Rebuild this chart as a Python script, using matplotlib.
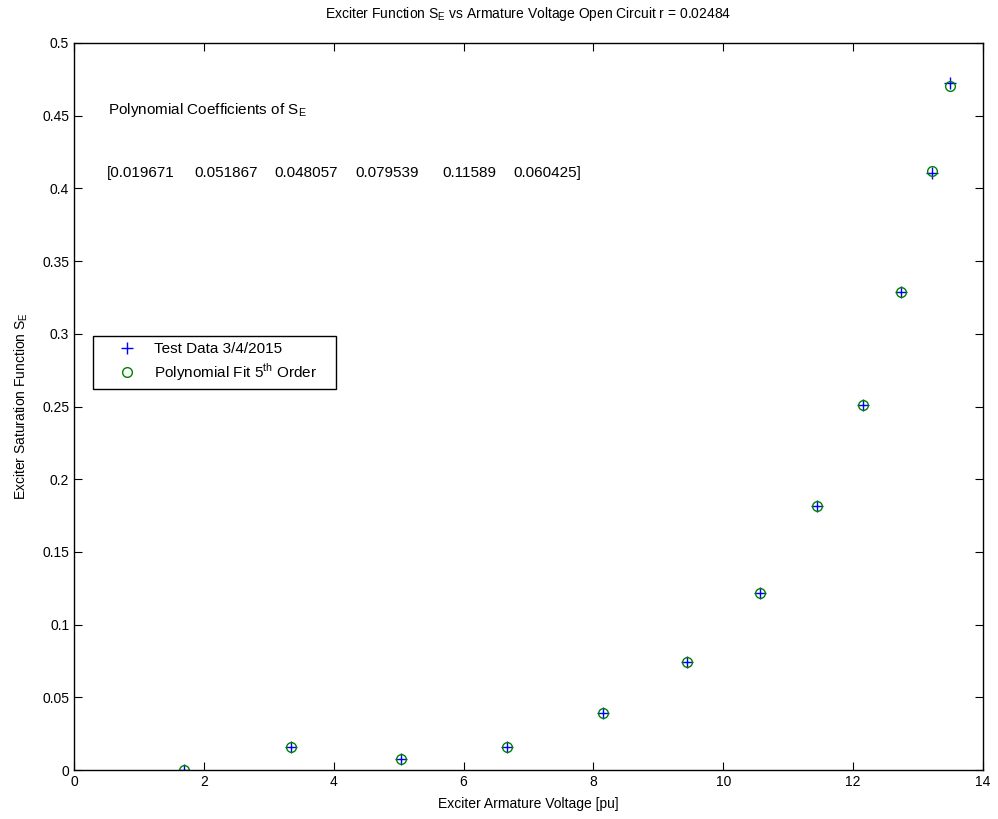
import matplotlib
matplotlib.use("Agg")
import matplotlib.pyplot as plt
from matplotlib.ticker import FuncFormatter

plt.rcParams['font.family'] = ['Liberation Sans', 'DejaVu Sans']
plt.rcParams['mathtext.fontset'] = 'custom'
plt.rcParams['mathtext.rm'] = 'Liberation Sans'

voltage = [1.69, 3.34, 5.04, 6.67, 8.15, 9.44, 10.56, 11.44, 12.15, 12.74, 13.21, 13.49]
se_test = [0.0, 0.016, 0.0079, 0.0155, 0.0395, 0.0746, 0.122, 0.1815, 0.2512, 0.3285, 0.4105, 0.4725]
se_fit = [0.0, 0.016, 0.0079, 0.0155, 0.0395, 0.0746, 0.122, 0.1815, 0.2508, 0.3285, 0.4122, 0.4705]
coeffs = ['0.019671', '0.051867', '0.048057', '0.079539', '0.11589', '0.060425']
coeff_x = [0.51, 1.85, 3.08, 4.33, 5.68, 6.76]

fig = plt.figure(figsize=(9.98, 8.19), dpi=100)
ax = fig.add_axes([74/998, 1-770/819, (983-74)/998, (770-43)/819])

ax.plot(voltage, se_test, linestyle='none', marker='+', color='blue', markersize=8,
        markeredgewidth=1.0, label='Test Data 3/4/2015')
ax.plot(voltage, se_fit, linestyle='none', marker='o', markerfacecolor='none',
        markeredgecolor='#008000', markersize=7, markeredgewidth=1.0,
        label=r'Polynomial Fit 5$^\mathregular{th}$ Order    ')

ax.set_xlim(0, 14)
ax.set_ylim(0, 0.5)
ax.set_xticks(range(0, 15, 2))
ax.set_yticks([i * 0.05 for i in range(11)])
ax.yaxis.set_major_formatter(FuncFormatter(lambda v, p: '%g' % round(v, 4)))
ax.tick_params(direction='in', top=True, right=True, length=6, width=0.8, labelsize=10)
for s in ax.spines.values():
    s.set_linewidth(1.0)

ax.set_title(r'Exciter Function S$_\mathregular{E}$ vs Armature Voltage Open Circuit r = 0.02484',
             fontsize=10, pad=18)
ax.set_xlabel('Exciter Armature Voltage [pu]', fontsize=10, labelpad=6)
ax.set_ylabel(r'Exciter Saturation Function S$_\mathregular{E}$', fontsize=10, labelpad=9)

ax.text(0.53, 0.4513, r'Polynomial Coefficients of S$_\mathregular{E}$', fontsize=11, va='baseline')
for i, (cx, c) in enumerate(zip(coeff_x, coeffs)):
    s = c
    if i == 0:
        s = '[' + s
    if i == len(coeffs) - 1:
        s = s + ']'
    ax.text(cx, 0.408, s, fontsize=11, va='baseline')

leg = ax.legend(loc='upper left', bbox_to_anchor=(0.021, 0.597), borderaxespad=0,
                fancybox=False, edgecolor='black', framealpha=1, fontsize=11,
                handletextpad=0.0, borderpad=0.4, handlelength=3.6, labelspacing=0.35)
leg.get_frame().set_linewidth(1.0)

fig.savefig('out.png', dpi=100)
